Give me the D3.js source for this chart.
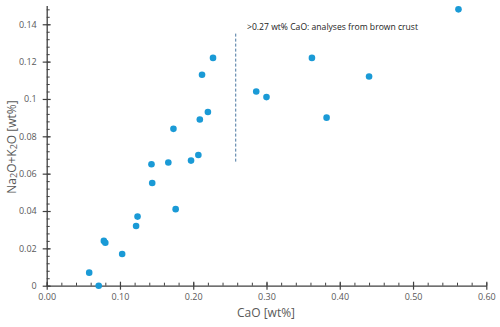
<!DOCTYPE html>
<html>
<head>
<meta charset="utf-8">
<script src="https://cdn.jsdelivr.net/npm/d3@7"></script>
<style>
body { margin: 0; background: #fff; }
text { font-family: "Open Sans", "Liberation Sans", sans-serif; }
</style>
</head>
<body>
<svg></svg>
<script>
// CaO [wt%] and Na2O+K2O [wt%]
var cao = [0.562, 0.362, 0.440, 0.286, 0.300, 0.382,
           0.227, 0.212, 0.220, 0.209, 0.173, 0.207, 0.197, 0.166, 0.143, 0.144,
           0.176, 0.124, 0.122, 0.078, 0.080, 0.103, 0.058, 0.071]
var alk = [0.148, 0.122, 0.112, 0.104, 0.101, 0.090,
           0.122, 0.113, 0.093, 0.089, 0.084, 0.070, 0.067, 0.066, 0.065, 0.055,
           0.041, 0.037, 0.032, 0.024, 0.023, 0.017, 0.007, 0.000]
var xTicks = [0, 0.1, 0.2, 0.3, 0.4, 0.5, 0.6]
var yTicks = [0, 0.02, 0.04, 0.06, 0.08, 0.1, 0.12, 0.14]
var cutoff = [0.258]
var cutRange = [0.0655, 0.135]
var note = ">0.27 wt% CaO: analyses from brown crust"

var screen = {width:500, height:327}
var svg = d3.select("svg").attr("width", screen.width).attr("height", screen.height)

var xScale = d3.scaleLinear().domain([0, 0.6]).range([46.7, 486.3])
var yScale = d3.scaleLinear().domain([0, 0.15]).range([285.7, 5.6])

var points = cao.map(function(c, i){ return {x:c, y:alk[i]} })

var axisColor = "#404040"
var labelColor = "#595959"

// minor ticks
var xMinor = d3.range(0, 0.6001, 0.02)
var yMinor = d3.range(0, 0.1501, 0.004)

svg.append("g").attr("transform", "translate(0," + yScale(0) + ")")
   .call(d3.axisTop(xScale).tickValues(xMinor).tickSize(3).tickFormat(""))
   .call(function(g){ g.select(".domain").remove() })
   .selectAll("line").attr("stroke", axisColor)

svg.append("g").attr("transform", "translate(" + xScale(0) + ",0)")
   .call(d3.axisRight(yScale).tickValues(yMinor).tickSize(3).tickFormat(""))
   .call(function(g){ g.select(".domain").remove() })
   .selectAll("line").attr("stroke", axisColor)

// major axes
var xAxis = svg.append("g").attr("transform", "translate(0," + yScale(0) + ")")
   .call(d3.axisBottom(xScale).tickValues(xTicks).tickSize(4).tickSizeOuter(0).tickPadding(4)
         .tickFormat(d3.format(".2f")))
xAxis.select(".domain").attr("stroke", axisColor).attr("stroke-width", 1.3)
xAxis.selectAll("line").attr("stroke", axisColor).attr("y1", -4).attr("stroke-width", 1.2)
xAxis.selectAll("text").attr("fill", labelColor).attr("font-size", 9)
     .attr("font-family", "Open Sans, sans-serif")

var yAxis = svg.append("g").attr("transform", "translate(" + xScale(0) + ",0)")
   .call(d3.axisLeft(yScale).tickValues(yTicks).tickSize(4).tickSizeOuter(0).tickPadding(6)
         .tickFormat(function(d){ return d === 0 ? "0" : d3.format("")(+d.toFixed(2)) }))
yAxis.select(".domain").attr("stroke", axisColor).attr("stroke-width", 1.3)
yAxis.selectAll("line").attr("stroke", axisColor).attr("x1", 4).attr("stroke-width", 1.2)
yAxis.selectAll("text").attr("fill", labelColor).attr("font-size", 9)
     .attr("font-family", "Open Sans, sans-serif")

// cutoff dashed line
svg.selectAll(".cut").data(cutoff).enter().append("line")
   .attr("class", "cut")
   .attr("x1", function(d){ return xScale(d) }).attr("x2", function(d){ return xScale(d) })
   .attr("y1", yScale(cutRange[1])).attr("y2", yScale(cutRange[0]))
   .attr("stroke", "#4a76a0").attr("stroke-width", 1).attr("stroke-dasharray", "3,2")

svg.append("text").attr("x", 247).attr("y", 29.5)
   .attr("font-size", 8.6).attr("fill", "#222").text(note)

// points
svg.selectAll("circle").data(points).enter().append("circle")
   .attr("cx", function(p){ return xScale(p.x) })
   .attr("cy", function(p){ return yScale(p.y) })
   .attr("r", 3.3)
   .attr("fill", "#1a9ad6")

// axis titles
svg.append("text").attr("x", 266).attr("y", 317).attr("text-anchor", "middle")
   .attr("font-size", 12).attr("fill", labelColor).text("CaO [wt%]")

var yt = svg.append("text").attr("transform", "translate(16,147) rotate(-90)")
   .attr("text-anchor", "middle").attr("font-size", 12).attr("fill", labelColor)
yt.append("tspan").text("Na")
yt.append("tspan").attr("font-size", 9).attr("dy", 1).text("2")
yt.append("tspan").attr("dy", -1).text("O+K")
yt.append("tspan").attr("font-size", 9).attr("dy", 1).text("2")
yt.append("tspan").attr("dy", -1).text("O [wt%]")
</script>
</body>
</html>
